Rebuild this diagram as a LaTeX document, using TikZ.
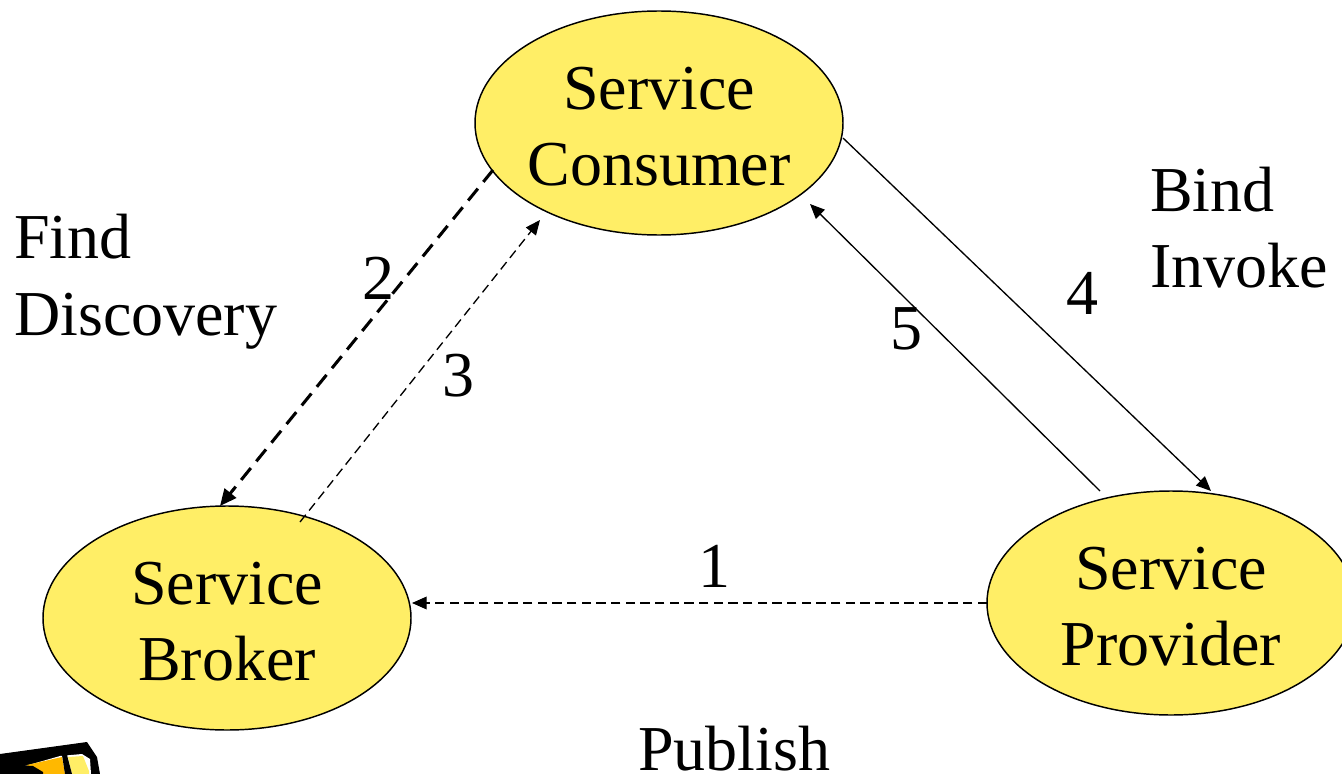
\documentclass[tikz,border=0pt]{standalone}
\usepackage{fontspec}
\setmainfont{Liberation Serif}
\usetikzlibrary{shapes.geometric,arrows.meta}
\definecolor{svc}{RGB}{255,238,102}
\definecolor{pen}{RGB}{255,184,0}
\newcommand{\svctwo}[2]{\smash{\makebox[0pt]{\raisebox{-12.9pt}{\begin{tabular}{@{}c@{}}#1\\#2\end{tabular}}}}}
\tikzset{
  x=0.75pt,y=-0.75pt,
  svcnode/.style={ellipse,draw=black,line width=1.1pt,fill=svc,minimum width=276pt,minimum height=168pt,inner sep=0pt,font=\fontsize{48}{57}\selectfont},
  lbl/.style={anchor=base west,inner sep=0pt,font=\fontsize{48}{57}\selectfont},
  num/.style={anchor=base,inner sep=0pt,font=\fontsize{48}{57}\selectfont},
  tip/.style={-{Triangle[length=11pt,width=9.5pt]}},
  bigtip/.style={-{Triangle[length=12.5pt,width=11pt]}},
  thin line/.style={line width=1pt,tip},
  fine dash/.style={line width=1pt,tip,dash pattern=on 7pt off 4pt},
  bold dash/.style={line width=2.3pt,bigtip,dash pattern=on 11.5pt off 6.5pt},
}
\begin{document}
\begin{tikzpicture}
\useasboundingbox (0,0) rectangle (1342,774);
\node[svcnode] (cons) at (659,123) {\svctwo{Service}{Consumer}};
\node[svcnode] (brok) at (227,618) {\svctwo{Service}{Broker}};
\node[svcnode] (prov) at (1171,603) {\svctwo{Service}{Provider}};
\coordinate (a2) at (493,170);
\coordinate (b2) at (220,506);
\coordinate (a3) at (300,522);
\coordinate (b3) at (540,220);
\coordinate (a1) at (987,603);
\coordinate (b1) at (412,603);
\coordinate (a4) at (843,138);
\coordinate (b4) at (1211,491);
\coordinate (a5) at (1100,491);
\coordinate (b5) at (810,204);
\draw[bold dash] (a2) -- (b2);
\draw[fine dash] (a3) -- (b3);
\draw[fine dash] (a1) -- (b1);
\draw[thin line] (a4) -- (b4);
\draw[thin line] (a5) -- (b5);
\node[lbl] (find) at (14,258) {Find};
\node[lbl] (disc) at (14,335) {Discovery};
\node[lbl] (bind) at (1150,211) {Bind};
\node[lbl] (invk) at (1150,287) {Invoke};
\node[lbl] (publ) at (638,770) {Publish};
\node[num] (n1) at (714,587) {1};
\node[num] (n2) at (378,299) {2};
\node[num] (n3) at (458,396) {3};
\node[num] (n4) at (1082,314) {4};
\node[num] (n5) at (906,349) {5};
% pencil, cut by the lower edge
\fill[black] (0,754) -- (87,742) -- (97,757) -- (100,774) -- (0,774) -- cycle;
\fill[white] (25,766) -- (60,756) -- (82,754) -- (90,759) -- (91,774) -- (25,774) -- cycle;
\fill[pen] (27,765) -- (62,757) -- (65,774) -- (27,774) -- cycle;
\fill[svc] (68,757) -- (83,756) -- (89,771) -- (89,774) -- (72,774) -- cycle;
\fill[black] (62,755) -- (67,755) -- (72,774) -- (65,774) -- cycle;
\fill[black] (0,764) -- (33,766) -- (43,772) -- (43,774) -- (0,774) -- cycle;
\end{tikzpicture}
\end{document}
